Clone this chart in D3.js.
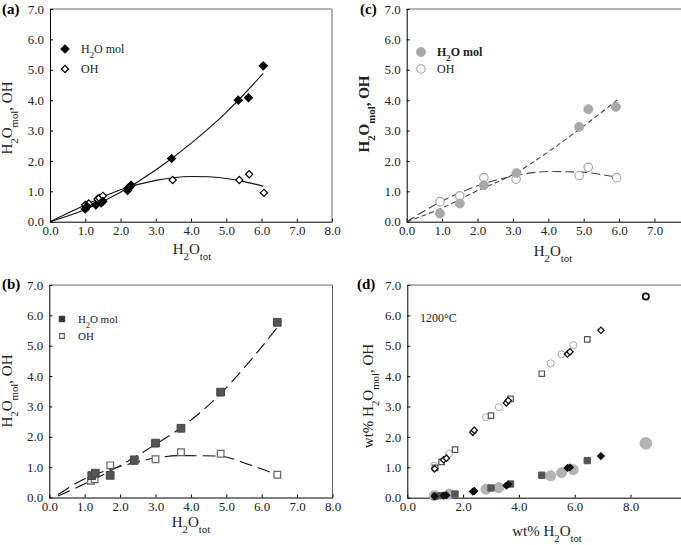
<!DOCTYPE html>
<html>
<head>
<meta charset="utf-8">
<script src="https://cdn.jsdelivr.net/npm/d3@7"></script>
<style>
  body { margin: 0; background: #fff; }
  svg { display: block; font-family: "Liberation Serif", "Times New Roman", serif; }
</style>
</head>
<body>
<svg id="fig" width="681" height="545"></svg>
<script>
// ---- data ----

// (a)
const aMol = [[1.0,0.42],[1.05,0.5],[1.3,0.55],[1.45,0.62],[1.5,0.67],[2.2,1.03],[2.25,1.12],[2.3,1.2],[3.45,2.08],[5.34,4.0],[5.63,4.08],[6.05,5.13]];
const aOH = [[1.0,0.55],[1.1,0.6],[1.35,0.75],[1.4,0.78],[1.5,0.85],[2.2,1.1],[2.28,1.18],[3.48,1.37],[5.37,1.37],[5.65,1.56],[6.07,0.95]];
const aMolFit = [[0,0],[1,0.4],[2,0.97],[3,1.7],[4,2.58],[5,3.6],[6.05,4.88]];
const aOHFit = [[0,0],[1,0.55],[2,1.05],[3,1.36],[4,1.49],[4.5,1.48],[5,1.42],[5.5,1.32],[6.05,1.17]];

// (b)
const bMol = [[1.2,0.72],[1.3,0.8],[1.72,0.73],[2.4,1.24],[3.0,1.79],[3.72,2.28],[4.84,3.47],[6.44,5.77]];
const bOH = [[1.18,0.55],[1.28,0.6],[1.72,1.06],[2.4,1.2],[3.0,1.26],[3.72,1.49],[4.84,1.44],[6.44,0.75]];
const bMolFit = [[0.25,0.05],[1,0.45],[2,1.05],[3,1.75],[3.72,2.3],[4.84,3.42],[5.6,4.4],[6.44,5.6]];
const bOHFit = [[0.25,0.1],[1,0.62],[2,1.02],[3,1.3],[3.7,1.38],[4.84,1.36],[5.6,1.1],[6.44,0.75]];

// (c)
const cMol = [[0.94,0.27],[1.5,0.6],[2.18,1.2],[3.1,1.6],[4.87,3.12],[5.13,3.7],[5.91,3.78]];
const cOH = [[0.94,0.66],[1.5,0.85],[2.18,1.45],[3.09,1.4],[4.87,1.52],[5.13,1.79],[5.93,1.45]];
const cMolFit = [[0,0],[1,0.45],[2,1.02],[3,1.55],[4,2.3],[5,3.15],[6,4.05]];
const cOHFit = [[0,0],[1,0.68],[2,1.18],[3,1.5],[4,1.65],[5,1.63],[5.5,1.55],[6,1.45]];

// (d) 1200 C
const dDiaX = [0.98,1.3,1.4,2.35,2.4,3.55,3.62,5.74,5.83,6.94];
const dDiaOH = [0.95,1.25,1.3,2.15,2.22,3.12,3.2,4.73,4.8,5.51];
const dDiaMol = [0.05,0.07,0.08,0.2,0.22,0.4,0.44,0.98,1.0,1.37];
const dSqX = [1.0,1.23,1.71,3.0,3.7,4.82,6.45];
const dSqOH = [0.98,1.18,1.58,2.7,3.25,4.08,5.21];
const dSqMol = [0.05,0.07,0.12,0.32,0.45,0.74,1.22];
const dCirX = [0.97,1.5,2.82,3.28,5.14,5.53,5.95];
const dCirOH = [1.05,1.45,2.65,2.98,4.42,4.72,5.02];
const dCirMol = [0.07,0.12,0.28,0.33,0.72,0.82,0.92];
const dBigX = [8.55];
const dBigOH = [6.62];
const dBigMol = [1.79];

const xTicks8 = [0,1,2,3,4,5,6,7,8];
const xTicks7 = [0,1,2,3,4,5,6,7];
const xTicksD = [0,2,4,6,8];
const yTicks = [0,1,2,3,4,5,6,7];

const svg = d3.select("#fig");
const fmt = d3.format(".1f");

// builds frame + axes for one panel, returns scales
function makePanel(p) {
  const x = d3.scaleLinear().domain(p.xDomain).range([p.left, p.right]);
  const y = d3.scaleLinear().domain([0, 7]).range([p.bottom, p.top]);
  const g = svg.append("g");

  // top border (and right border where the panel has one)
  g.append("line")
    .attr("x1", p.left).attr("x2", p.frameRight)
    .attr("y1", p.top).attr("y2", p.top)
    .attr("stroke", "#666").attr("stroke-width", 1);
  if (p.rightBorder) {
    g.append("line")
      .attr("x1", p.frameRight).attr("x2", p.frameRight)
      .attr("y1", p.top).attr("y2", p.bottom)
      .attr("stroke", "#666").attr("stroke-width", 1);
  }

  const xa = g.append("g")
    .attr("transform", `translate(0,${p.bottom})`)
    .call(d3.axisBottom(x).tickValues(p.xTicks).tickFormat(fmt)
      .tickSizeInner(-3).tickSizeOuter(0).tickPadding(4));
  const ya = g.append("g")
    .attr("transform", `translate(${p.left},0)`)
    .call(d3.axisLeft(y).tickValues(yTicks).tickFormat(fmt)
      .tickSizeInner(-3).tickSizeOuter(0).tickPadding(6));

  [xa, ya].forEach(a => {
    a.attr("font-family", null).attr("font-size", 13);
    a.selectAll("text").attr("fill", "#222");
    a.select(".domain").attr("stroke", "#000");
  });

  return { g, x, y };
}

// text with subscripts: parts = [[str, isSub], ...]
function subText(g, parts, size) {
  const t = g.append("text").attr("font-size", size).attr("fill", "#222");
  parts.forEach(([s, sub]) => {
    const ts = t.append("tspan").text(s);
    if (sub) ts.attr("font-size", size * 0.72).attr("baseline-shift", "sub");
  });
  return t;
}

function yTitle(x0, y0, prefix, weight) {
  const parts = [];
  if (prefix) parts.push([prefix, false]);
  parts.push(["H", false], ["2", true], ["O", false], ["mol", true], [", OH", false]);
  subText(svg, parts, 15)
    .attr("text-anchor", "middle")
    .attr("font-weight", weight || "normal")
    .attr("transform", `translate(${x0},${y0}) rotate(-90)`);
}

function xTitle(x0, y0, prefix) {
  const parts = [];
  if (prefix) parts.push([prefix, false]);
  parts.push(["H", false], ["2", true], ["O", false], ["tot", true]);
  subText(svg, parts, 15)
    .attr("text-anchor", "middle")
    .attr("transform", `translate(${x0},${y0})`);
}

function panelLabel(x0, y0, s) {
  svg.append("text")
    .attr("x", x0).attr("y", y0)
    .attr("font-size", 15).attr("font-weight", "bold")
    .text(s);
}

// markers
const diamond = d3.symbol().type(d3.symbolSquare);
const square = d3.symbol().type(d3.symbolSquare);
const circle = d3.symbol().type(d3.symbolCircle);

function drawMarks(g, data, x, y, st) {
  g.selectAll(null)
    .data(data)
    .enter()
    .append("path")
    .attr("d", st.gen.size(st.size)())
    .attr("transform", d => `translate(${x(d[0])},${y(d[1])})` + (st.rot ? " rotate(45)" : ""))
    .attr("fill", st.fill)
    .attr("stroke", st.stroke)
    .attr("stroke-width", st.sw || 1);
}

function drawFit(g, data, x, y, dash, color) {
  const line = d3.line().x(d => x(d[0])).y(d => y(d[1])).curve(d3.curveMonotoneX);
  g.append("path")
    .datum(data)
    .attr("d", line)
    .attr("fill", "none")
    .attr("stroke", color || "#111")
    .attr("stroke-width", 1.1)
    .attr("stroke-dasharray", dash || null);
}

function legendRow(g, cx, cy, st, parts, size, weight) {
  drawMarks(g, [[0, 0]], () => cx, () => cy, st);
  subText(g, parts, size)
    .attr("x", cx + 16).attr("y", cy + 4)
    .attr("font-weight", weight || "normal");
}

const molLabel = [["H", false], ["2", true], ["O mol", false]];
const ohLabel = [["OH", false]];

// ---- panel (a) ----
{
  const p = makePanel({ left: 50, right: 332, top: 9, bottom: 221.7, frameRight: 332,
    rightBorder: true, xDomain: [0, 8], xTicks: xTicks8 });
  const stMol = { gen: diamond, size: 34, rot: true, fill: "#000", stroke: "#000" };
  const stOH = { gen: diamond, size: 26, rot: true, fill: "#fff", stroke: "#000", sw: 1.2 };
  drawFit(p.g, aMolFit, p.x, p.y);
  drawFit(p.g, aOHFit, p.x, p.y);
  drawMarks(p.g, aOH, p.x, p.y, stOH);
  drawMarks(p.g, aMol, p.x, p.y, stMol);
  legendRow(p.g, 65, 49, stMol, molLabel, 12);
  legendRow(p.g, 65, 69, stOH, ohLabel, 12);
  panelLabel(2, 14, "(a)");
  yTitle(12, 118);
  xTitle(192, 254);
}

// ---- panel (b) ----
{
  const p = makePanel({ left: 49.3, right: 332.5, top: 285, bottom: 497.5, frameRight: 332.5,
    rightBorder: true, xDomain: [0, 8], xTicks: xTicks8 });
  const stMol = { gen: square, size: 60, fill: "#555", stroke: "#444" };
  const stOH = { gen: square, size: 44, fill: "#fff", stroke: "#666", sw: 1.2 };
  drawFit(p.g, bMolFit, p.x, p.y, "13,6");
  drawFit(p.g, bOHFit, p.x, p.y, "13,6");
  drawMarks(p.g, bOH, p.x, p.y, stOH);
  drawMarks(p.g, bMol, p.x, p.y, stMol);
  legendRow(p.g, 62, 319, { gen: square, size: 30, fill: "#333", stroke: "#333" }, molLabel, 11);
  legendRow(p.g, 62, 336, { gen: square, size: 22, fill: "#fff", stroke: "#555", sw: 1.1 }, ohLabel, 11);
  panelLabel(2, 289, "(b)");
  yTitle(12, 391);
  xTitle(191, 527);
}

// ---- panel (c) ----
{
  const p = makePanel({ left: 406.7, right: 406.7 + 8 * 35.4, top: 9, bottom: 221.7, frameRight: 681,
    rightBorder: false, xDomain: [0, 8], xTicks: xTicks7 });
  const stMol = { gen: circle, size: 62, fill: "#a9a9a9", stroke: "#a9a9a9" };
  const stOH = { gen: circle, size: 56, fill: "#fff", stroke: "#a0a0a0", sw: 1.1 };
  drawFit(p.g, cMolFit, p.x, p.y, "5,3", "#444");
  drawFit(p.g, cOHFit, p.x, p.y, "9,4", "#444");
  drawMarks(p.g, cOH, p.x, p.y, stOH);
  drawMarks(p.g, cMol, p.x, p.y, stMol);
  legendRow(p.g, 421, 52, stMol, molLabel, 12, "bold");
  legendRow(p.g, 421, 69, stOH, ohLabel, 12);
  panelLabel(360, 14, "(c)");
  yTitle(369, 114, null, "bold");
  xTitle(553, 256);
}

// ---- panel (d) ----
{
  const p = makePanel({ left: 407.3, right: 407.3 + 10 * 27.9, top: 285, bottom: 497.7, frameRight: 681,
    rightBorder: false, xDomain: [0, 10], xTicks: xTicksD });
  const pair = (xs, ys) => xs.map((v, i) => [v, ys[i]]);
  const stDiaO = { gen: diamond, size: 20, rot: true, fill: "#fff", stroke: "#111", sw: 1.3 };
  const stDiaF = { gen: diamond, size: 24, rot: true, fill: "#111", stroke: "#111" };
  const stSqO = { gen: square, size: 30, fill: "#fff", stroke: "#555", sw: 1.2 };
  const stSqF = { gen: square, size: 40, fill: "#555", stroke: "#555" };
  const stCirO = { gen: circle, size: 40, fill: "#fff", stroke: "#aaa", sw: 1 };
  const stCirF = { gen: circle, size: 80, fill: "#b3b3b3", stroke: "#b3b3b3" };
  const stBigO = { gen: circle, size: 30, fill: "#fff", stroke: "#111", sw: 1.8 };

  drawMarks(p.g, pair(dCirX, dCirOH), p.x, p.y, stCirO);
  drawMarks(p.g, pair(dSqX, dSqOH), p.x, p.y, stSqO);
  drawMarks(p.g, pair(dDiaX, dDiaOH), p.x, p.y, stDiaO);
  drawMarks(p.g, pair(dBigX, dBigOH), p.x, p.y, stBigO);

  drawMarks(p.g, pair(dCirX, dCirMol), p.x, p.y, stCirF);
  drawMarks(p.g, pair(dSqX, dSqMol), p.x, p.y, stSqF);
  drawMarks(p.g, pair(dDiaX, dDiaMol), p.x, p.y, stDiaF);
  drawMarks(p.g, pair(dBigX, dBigMol), p.x, p.y, { gen: circle, size: 110, fill: "#b3b3b3", stroke: "#b3b3b3" });

  p.g.append("text").attr("x", 420).attr("y", 322).attr("font-size", 12).attr("fill", "#222").text("1200°C");
  panelLabel(357, 289, "(d)");
  yTitle(373, 396, "wt% ");
  xTitle(547, 536, "wt% ");
}
</script>
</body>
</html>
